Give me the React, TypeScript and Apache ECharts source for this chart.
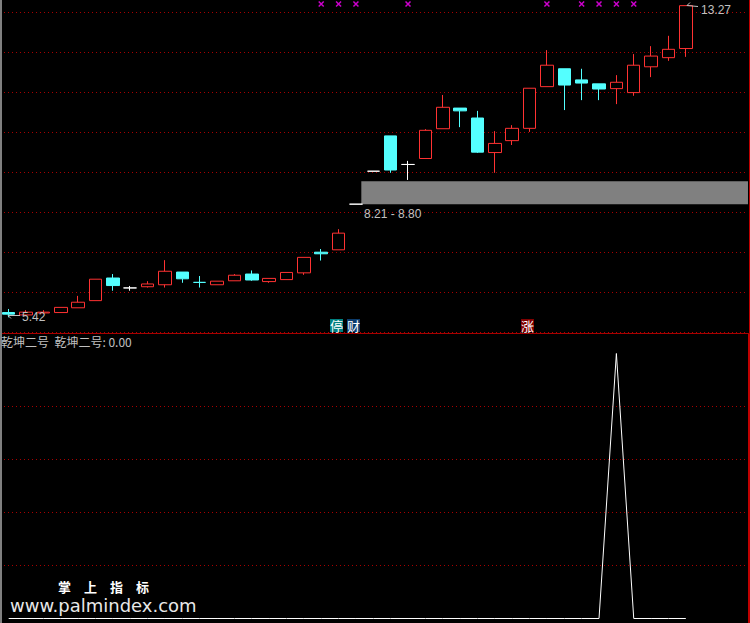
import React, { useEffect, useRef } from "react";
import * as echarts from "echarts";

const days = Array.from({ length: 43 }, (_, i) => String(i + 1));

// prices
const opens = [5.54, 5.48, 5.53, 5.54, 5.66, 5.84, 6.41, 6.16, 6.19, 6.24, 6.56, 6.3, 6.24, 6.34, 6.51, 6.32, 6.37, 6.54, 7.06, 7.12, 8.27, 9.1, 9.99, 9.27, 9.42, 10.17, 10.69, 10.44, 9.57, 9.87, 10.18, 11.23, 11.68, 11.4, 11.3, 11.18, 11.08, 11.73, 11.96, 12.19];
const closes = [5.5, 5.55, 5.55, 5.67, 5.8, 6.38, 6.22, 6.16, 6.26, 6.58, 6.39, 6.3, 6.33, 6.48, 6.36, 6.4, 6.55, 6.93, 7.02, 7.54, 8.27, 9.1, 9.13, 9.27, 10.13, 10.71, 10.62, 9.58, 9.8, 10.18, 11.19, 11.77, 11.27, 11.32, 11.17, 11.34, 11.77, 12.0, 12.17, 13.27];
const highs = [5.63, 5.6, 5.6, 5.67, 5.96, 6.38, 6.51, 6.21, 6.33, 6.86, 6.56, 6.46, 6.33, 6.51, 6.6, 6.4, 6.55, 6.93, 7.14, 7.64, 8.27, 9.1, 9.99, 9.36, 10.16, 11.02, 10.69, 10.62, 10.11, 10.26, 11.19, 12.15, 11.68, 11.68, 11.3, 11.52, 12.05, 12.25, 12.51, 13.27];
const lows = [5.42, 5.45, 5.52, 5.54, 5.66, 5.84, 6.09, 6.09, 6.17, 6.17, 6.29, 6.17, 6.24, 6.34, 6.34, 6.29, 6.37, 6.49, 6.85, 7.12, 8.27, 9.1, 9.06, 8.88, 9.42, 10.17, 10.21, 9.56, 9.06, 9.76, 10.09, 11.23, 10.64, 10.89, 10.89, 10.79, 11.0, 11.47, 11.88, 11.98];
const kinds = ["d", "u", "u", "u", "u", "u", "d", "f", "u", "u", "d", "d", "u", "u", "d", "u", "u", "u", "d", "u", "f", "f", "d", "f", "u", "u", "d", "d", "u", "u", "u", "u", "d", "d", "d", "u", "u", "u", "u", "u"];
const signalDays = [18, 19, 20, 23, 31, 33, 34, 35, 36];
const signalLevel = 13.31;
const gapBand = [20.31, 42.58, 8.27, 8.85];
const indicator = [0, 0, 0, 0, 0, 0, 0, 0, 0, 0, 0, 0, 0, 0, 0, 0, 0, 0, 0, 0, 0, 0, 0, 0, 0, 0, 0, 0, 0, 0, 0, 0, 0, 0, 0, 100, 0, 0, 0, 0];

const highLabel = "13.27";
const lowLabel = "5.42";
const gapLabel = "8.21 - 8.80";
const panelTitle = "乾坤二号  乾坤二号: 0.00";
const brandCn = "掌　上　指　标";
const brandUrl = "www.palmindex.com";
const tags = [
  { text: "停", x: 330, fill: "#008080" },
  { text: "财", x: 347, fill: "#0C3C6C" },
  { text: "涨", x: 521, fill: "#800000" },
];

const RED = "#FF3232";
const CYAN = "#54FFFF";
const DOT = "#A80000";
const SANS = "Liberation Sans";
const CJK = "Noto Sans CJK SC";

const colorOf: Record<string, string> = { u: RED, d: CYAN, f: "#FFFFFF" };
const candles = opens.map((o, i) => {
  const c = colorOf[kinds[i]];
  const fill = kinds[i] === "u" ? "#000000" : c;
  return {
    value: [o, closes[i], lows[i], highs[i]],
    itemStyle: { color: fill, color0: fill, borderColor: c, borderColor0: c, borderWidth: 1 },
  };
});

const gridX = { left: -0.7, width: 747.3 };
const label = (text: string, x: number, y: number, size = 12, fill = "#C0C0C0", family = SANS, weight = "normal") => ({
  type: "text",
  x,
  y,
  z: 50,
  style: { text, fill, fontSize: size, fontFamily: family, fontWeight: weight, textVerticalAlign: "middle", verticalAlign: "middle" },
});
const seg = (x1: number, y1: number, x2: number, y2: number, stroke: string, lineWidth = 1) => ({
  type: "line",
  z: 40,
  shape: { x1, y1, x2, y2 },
  style: { stroke, lineWidth },
});

export default function App() {
  const ref = useRef<HTMLDivElement>(null);
  useEffect(() => {
    const chart = echarts.init(ref.current!, undefined, { renderer: "svg" });
    chart.setOption({
      animation: false,
      backgroundColor: "#000000",
      grid: [
        { ...gridX, top: 0, height: 332.5 },
        { ...gridX, top: 353.5, height: 265 },
      ],
      xAxis: [
        { type: "category", gridIndex: 0, data: days, show: false },
        { type: "category", gridIndex: 1, data: days, show: false },
        { type: "value", gridIndex: 0, min: -0.5, max: 42.5, show: false, splitLine: { show: false } },
      ],
      yAxis: [
        {
          type: "value",
          gridIndex: 0,
          min: 5.0375,
          max: 13.4124,
          interval: 1.0075,
          axisLine: { show: false },
          axisTick: { show: false },
          axisLabel: { show: false },
          splitLine: { show: true, showMaxLine: false, lineStyle: { color: DOT, width: 1, type: [1, 3] } },
        },
        {
          type: "value",
          gridIndex: 1,
          min: 0,
          max: 100,
          interval: 20,
          axisLine: { show: false },
          axisTick: { show: false },
          axisLabel: { show: false },
          splitLine: { show: true, showMaxLine: false, showMinLine: false, lineStyle: { color: DOT, width: 1, type: [1, 3] } },
        },
      ],
      series: [
        {
          type: "custom",
          xAxisIndex: 2,
          yAxisIndex: 0,
          data: [gapBand],
          clip: false,
          silent: true,
          renderItem: (_: any, api: any) => {
            const a = api.coord([api.value(0), api.value(3)]);
            const b = api.coord([api.value(1), api.value(2)]);
            return { type: "rect", shape: { x: a[0], y: a[1], width: b[0] - a[0], height: b[1] - a[1] }, style: { fill: "#808080" } };
          },
        },
        {
          type: "candlestick",
          xAxisIndex: 0,
          yAxisIndex: 0,
          data: candles,
          barWidth: 13,
          clip: false,
        },
        {
          type: "scatter",
          xAxisIndex: 0,
          yAxisIndex: 0,
          data: signalDays.map((d) => [d, signalLevel]),
          symbol: "path://M0 0L10 10M10 0L0 10",
          symbolSize: 5,
          itemStyle: { color: "transparent", borderColor: "#FF00FF", borderWidth: 1.5 },
          clip: false,
        },
        {
          type: "line",
          xAxisIndex: 1,
          yAxisIndex: 1,
          data: indicator,
          showSymbol: false,
          lineStyle: { color: "#FFFFFF", width: 1 },
          clip: false,
        },
      ],
      graphic: [
        seg(0.5, 333.5, 750, 333.5, "#A80000"),
        { type: "rect", z: 40, shape: { x: 0, y: 0, width: 2, height: 623 }, style: { fill: "#808080" } },
        { type: "rect", z: 40, shape: { x: 748, y: 334, width: 2, height: 289 }, style: { fill: "#C00000" } },
        seg(749.5, 0, 749.5, 333, "#C00000"),
        seg(8, 315.5, 20, 315.5, "#C0C0C0"),
        seg(8, 315.5, 11, 318.5, "#C0C0C0"),
        seg(687, 5.5, 698, 6.5, "#C0C0C0"),
        seg(687, 5.5, 690, 2.5, "#C0C0C0"),
        label(lowLabel, 22, 317),
        label(highLabel, 701, 10),
        label(gapLabel, 364, 214),
        label(panelTitle, 1, 341, 12, "#C0C0C0", CJK),
        ...tags.flatMap((t) => [
          { type: "rect", z: 45, shape: { x: t.x, y: 319, width: 13, height: 13 }, style: { fill: t.fill } },
          label(t.text, t.x, 325.5, 13, "#FFFFFF", CJK),
        ]),
        label(brandCn, 58, 586.5, 13, "#FFFFFF", CJK, "bold"),
        label(brandUrl, 10, 605.5, 18, "#E8E8E8", "DejaVu Sans"),
      ],
    });
    return () => chart.dispose();
  }, []);
  return <div ref={ref} style={{ position: "absolute", left: 0, top: 0, width: 750, height: 623 }} />;
}
